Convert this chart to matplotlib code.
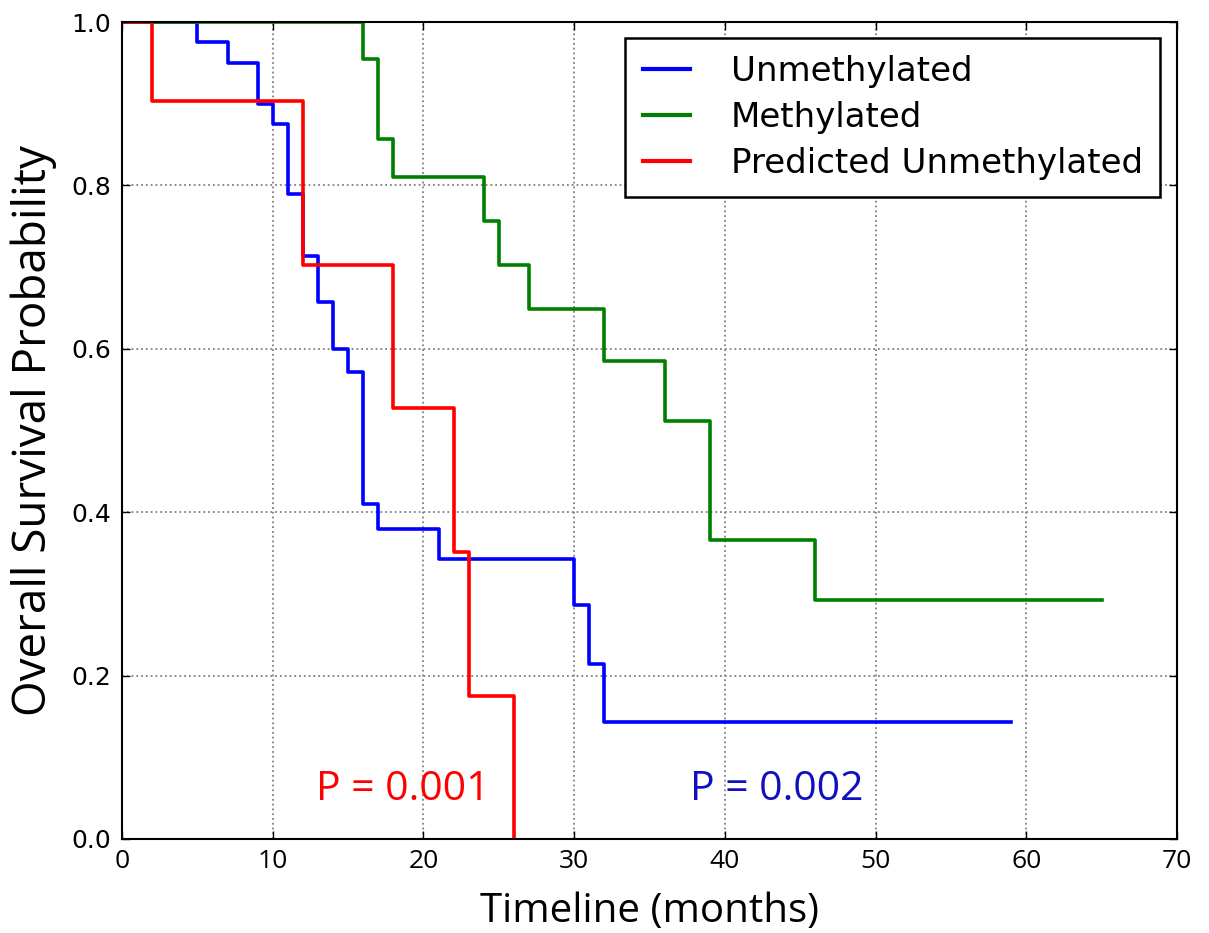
import matplotlib
matplotlib.use('Agg')
import matplotlib.pyplot as plt

# Kaplan-Meier survival curves (months, survival probability)
unmeth_t = [0, 5, 7, 9, 10, 11, 12, 13, 14, 15, 16, 17, 21, 30, 31, 32, 59]
unmeth_s = [1.0, 0.975, 0.95, 0.90, 0.875, 0.79, 0.714, 0.657, 0.60, 0.571, 0.41, 0.38, 0.343, 0.286, 0.214, 0.143, 0.143]

meth_t = [0, 16, 17, 18, 24, 25, 27, 32, 36, 39, 46, 65]
meth_s = [1.0, 0.955, 0.857, 0.81, 0.757, 0.703, 0.649, 0.585, 0.512, 0.366, 0.293, 0.293]

pred_t = [0, 2, 12, 18, 22, 23, 26]
pred_s = [1.0, 0.903, 0.702, 0.527, 0.351, 0.175, 0.0]

labels = ['Unmethylated', 'Methylated', 'Predicted Unmethylated']
colors = ['blue', 'green', 'red']
xticks = [0, 10, 20, 30, 40, 50, 60, 70]
yticks = [0.0, 0.2, 0.4, 0.6, 0.8, 1.0]

fig = plt.figure(figsize=(12.09, 9.33), dpi=100)
ax = fig.add_axes([122/1209, 1-839/933, (1177-122)/1209, (839-22)/933])

ax.step(unmeth_t, unmeth_s, where='post', color=colors[0], lw=2.6, label=labels[0])
ax.step(meth_t, meth_s, where='post', color=colors[1], lw=2.6, label=labels[1])
ax.step(pred_t, pred_s, where='post', color=colors[2], lw=2.6, label=labels[2])

ax.set_xlim(0, 70)
ax.set_ylim(0, 1.0)
ax.grid(True, linestyle=':', color='0.5', lw=1.3)
ax.tick_params(direction='in', top=True, right=True, length=6, width=1)
ax.tick_params(axis='x', pad=7)
ax.tick_params(axis='y', pad=8)
ax.set_xticks(xticks, labels=[str(v) for v in xticks], fontsize=19, family='Open Sans')
ax.set_yticks(yticks, labels=['%.1f' % v for v in yticks], fontsize=18, family='DejaVu Sans')
for sp in ax.spines.values():
    sp.set_linewidth(1.5)

ax.set_xlabel('Timeline (months)', fontsize=29, family='Open Sans')
ax.xaxis.label.set_va('baseline')
ax.xaxis.set_label_coords(0.5, -0.1016)
ax.set_ylabel('Overall Survival Probability', fontsize=33, family='Open Sans', labelpad=10)

ax.text(12.9, 0.048, 'P = 0.001', color='red', fontsize=29.5, family='Open Sans', va='baseline')
ax.text(37.7, 0.048, 'P = 0.002', color='#1010c0', fontsize=29.5, family='Open Sans', va='baseline')

leg = ax.legend(loc='upper right', bbox_to_anchor=(0.984, 0.98), borderaxespad=0,
                fontsize=24.5, fancybox=False, framealpha=1, edgecolor='black',
                handlelength=1.4, handletextpad=1.2, borderpad=0.5, labelspacing=0.38)
leg.get_frame().set_linewidth(1.8)
for h in leg.get_lines():
    h.set_linewidth(3)

fig.savefig('out.png', dpi=100)
